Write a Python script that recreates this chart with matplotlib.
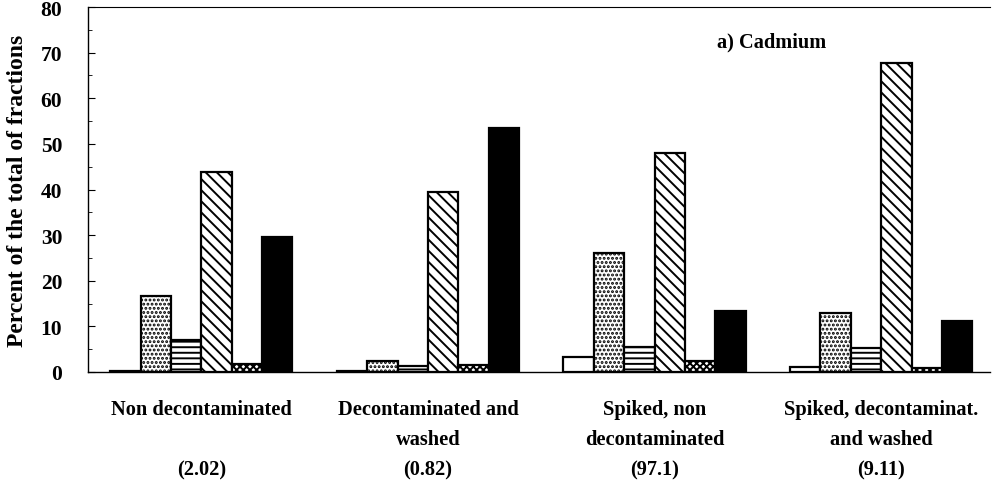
import matplotlib
matplotlib.use("Agg")
import matplotlib.pyplot as plt
import matplotlib.transforms as mtransforms
import numpy as np

categories = ["Non decontaminated", "Decontaminated and\nwashed",
              "Spiked, non\ndecontaminated", "Spiked, decontaminat.\nand washed"]
totals = ["(2.02)", "(0.82)", "(97.1)", "(9.11)"]
fraction1 = [0.3, 0.2, 3.2, 1.2]
fraction2 = [16.7, 2.5, 26.0, 13.0]
fraction3 = [7.0, 1.3, 5.5, 5.3]
fraction4 = [43.8, 39.4, 48.0, 67.8]
fraction5 = [1.8, 1.5, 2.5, 0.8]
fraction6 = [29.6, 53.5, 13.4, 11.2]
series = [fraction1, fraction2, fraction3, fraction4, fraction5, fraction6]
hatches = ["", "....", "---", "\\\\\\", "xxxxx", ""]
faces = ["white", "white", "white", "white", "white", "black"]

plt.rcParams['font.family'] = ['Liberation Serif', 'DejaVu Serif']
plt.rcParams['font.weight'] = 'bold'
plt.rcParams['hatch.linewidth'] = 1.4

fig = plt.figure(figsize=(9.94, 4.89), dpi=100)
ax = fig.add_axes([88/994, 1-373/489, 902/994, 365/489])

x = np.arange(len(categories))
w = 0.134
for i, (vals, h, fc) in enumerate(zip(series, hatches, faces)):
    ax.bar(x + (i - 2.5) * w, vals, width=w, color=fc, edgecolor="black",
           hatch=h, linewidth=1.6)

ax.set_xlim(-0.5, 3.48)
ax.set_ylim(0, 80)
ax.set_yticks(np.arange(0, 81, 10))
ax.set_yticks(np.arange(5, 80, 10), minor=True)
ax.tick_params(axis='y', direction='in', length=5, labelsize=15.5, pad=18.5)
ax.tick_params(axis='y', which='minor', direction='in', length=3)
ax.set_xticks([])
for lab in ax.get_yticklabels():
    lab.set_fontweight('bold')
ax.spines['right'].set_visible(False)
ax.spines['top'].set_linewidth(0.8)
ax.spines['left'].set_linewidth(1.0)
ax.spines['bottom'].set_linewidth(1.0)

ax.set_ylabel("Percent of the total of fractions", fontsize=17, fontweight='bold', labelpad=9)

trans = mtransforms.blended_transform_factory(ax.transData, fig.transFigure)
for xi, cat, tot in zip(x, categories, totals):
    ax.text(xi, 1-400/489, cat, transform=trans, ha='center', va='top',
            fontsize=14.7, fontweight='bold', linespacing=1.7)
    ax.text(xi, 1-470/489, tot, transform=trans, ha='center', va='center',
            fontsize=14.7, fontweight='bold')

fig.text(772/994, 1-42/489, "a) Cadmium", ha='center', va='center',
         fontsize=14.7, fontweight='bold')

fig.savefig("out.png", dpi=100)
